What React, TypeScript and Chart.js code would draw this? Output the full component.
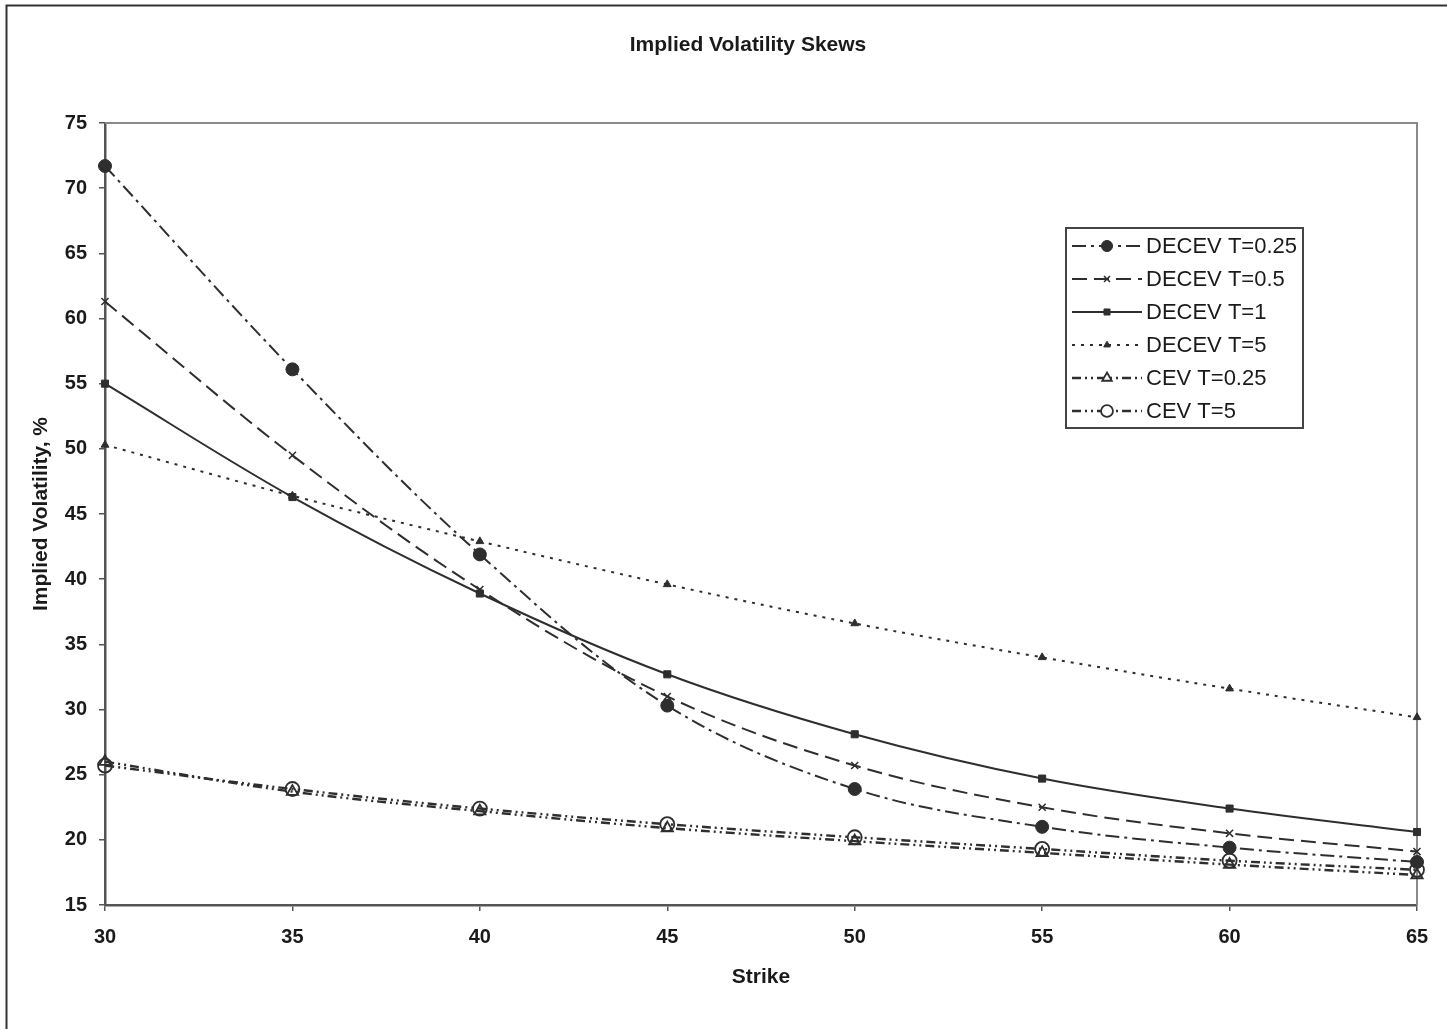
import React, { useEffect, useRef } from "react";
import { Chart, registerables } from "chart.js";
import { drawPoint } from "chart.js/helpers";

Chart.register(...registerables);

const strikes = [30, 35, 40, 45, 50, 55, 60, 65];
const decevT025 = [71.7, 56.1, 41.9, 30.3, 23.9, 21.0, 19.4, 18.3];
const decevT05 = [61.3, 49.5, 39.2, 31.0, 25.7, 22.5, 20.5, 19.1];
const decevT1 = [55.0, 46.3, 38.9, 32.7, 28.1, 24.7, 22.4, 20.6];
const decevT5 = [50.3, 46.4, 42.9, 39.6, 36.6, 34.0, 31.6, 29.4];
const cevT025 = [26.0, 23.7, 22.2, 20.9, 19.9, 19.0, 18.1, 17.3];
const cevT5 = [25.7, 23.9, 22.4, 21.2, 20.2, 19.3, 18.4, 17.7];

const chartTitle = "Implied Volatility Skews";
const seriesLabels = [
  "DECEV T=0.25",
  "DECEV T=0.5",
  "DECEV T=1",
  "DECEV T=5",
  "CEV T=0.25",
  "CEV T=5",
];
const yTicks = [15, 20, 25, 30, 35, 40, 45, 50, 55, 60, 65, 70, 75];
const xTicks = [30, 35, 40, 45, 50, 55, 60, 65];

const INK = "#2e2e2e";
const FONT = "'Liberation Sans', Arial, Helvetica, sans-serif";

const toPts = (ys: number[]) => strikes.map((x, i) => ({ x, y: ys[i] }));

export default function App() {
  const ref = useRef<HTMLCanvasElement | null>(null);

  useEffect(() => {
    if (!ref.current) return;

    const styles = [
      { dash: [14, 5, 3, 5], pointStyle: "circle", radius: 6.5, bg: INK, bw: 1, width: 2 },
      { dash: [15, 7], pointStyle: "crossRot", radius: 5, bg: INK, bw: 1.5, width: 2 },
      { dash: [], pointStyle: "rect", radius: 5, bg: INK, bw: 1, width: 2 },
      { dash: [3, 6], pointStyle: "triangle", radius: 4.5, bg: INK, bw: 1, width: 2 },
      { dash: [9, 4, 2, 4, 2, 4], pointStyle: "triangle", radius: 6.5, bg: "rgba(255,255,255,0)", bw: 1.8, width: 2.4 },
      { dash: [9, 4, 2, 4, 2, 4], pointStyle: "circle", radius: 7, bg: "rgba(255,255,255,0)", bw: 1.8, width: 2.4 },
    ];
    const values = [decevT025, decevT05, decevT1, decevT5, cevT025, cevT5];

    const frameAndBorders = {
      id: "frameAndBorders",
      beforeDatasetsDraw(chart: any) {
        const { ctx, chartArea } = chart;
        ctx.save();
        ctx.strokeStyle = "#8a8a8a";
        ctx.lineWidth = 2;
        ctx.beginPath();
        ctx.moveTo(chartArea.left, chartArea.top);
        ctx.lineTo(chartArea.right, chartArea.top);
        ctx.lineTo(chartArea.right, chartArea.bottom);
        ctx.stroke();
        ctx.restore();
      },
      afterDraw(chart: any) {
        const { ctx } = chart;
        ctx.save();
        // outer frame (top and left)
        ctx.strokeStyle = "#333";
        ctx.lineWidth = 2;
        ctx.beginPath();
        ctx.moveTo(6.5, chart.height);
        ctx.lineTo(6.5, 5.5);
        ctx.lineTo(chart.width, 5.5);
        ctx.stroke();

        // title
        ctx.fillStyle = "#1a1a1a";
        ctx.font = "bold 21px " + FONT;
        ctx.textAlign = "center";
        ctx.textBaseline = "middle";
        ctx.fillText(chartTitle, 748, 45);

        // legend
        const bx = 1066, by = 228, bw = 237, bh = 200;
        ctx.fillStyle = "#fff";
        ctx.fillRect(bx, by, bw, bh);
        ctx.strokeStyle = "#444";
        ctx.lineWidth = 2;
        ctx.strokeRect(bx, by, bw, bh);
        ctx.font = "22px " + FONT;
        ctx.textBaseline = "middle";
        ctx.textAlign = "left";
        seriesLabels.forEach((lab, i) => {
          const y = by + 18 + i * 33;
          const s = styles[i];
          ctx.strokeStyle = INK;
          ctx.lineWidth = s.width;
          ctx.setLineDash(s.dash);
          ctx.beginPath();
          ctx.moveTo(bx + 6, y);
          ctx.lineTo(bx + 76, y);
          ctx.stroke();
          ctx.setLineDash([]);
          ctx.fillStyle = s.bg === INK ? INK : "#fff";
          ctx.strokeStyle = INK;
          ctx.lineWidth = s.bw;
          drawPoint(ctx, { pointStyle: s.pointStyle, radius: s.radius * 0.85, borderWidth: s.bw, rotation: 0 } as any, bx + 41, y);
          ctx.fillStyle = "#1a1a1a";
          ctx.fillText(lab, bx + 80, y + 1);
        });
        ctx.restore();
      },
    };

    const chart = new Chart(ref.current, {
      type: "line",
      data: {
        datasets: values.map((v, i) => ({
          label: seriesLabels[i],
          data: toPts(v),
          borderColor: INK,
          borderWidth: styles[i].width,
          borderDash: styles[i].dash,
          pointStyle: styles[i].pointStyle as any,
          pointRadius: styles[i].radius,
          pointBackgroundColor: styles[i].bg,
          pointBorderColor: INK,
          pointBorderWidth: styles[i].bw,
          tension: 0.35,
          fill: false,
          clip: false as any,
        })),
      },
      options: {
        animation: false,
        responsive: true,
        maintainAspectRatio: false,
        layout: { padding: { left: 0, right: 30, top: 123, bottom: 0 } },
        plugins: {
          legend: { display: false },
          tooltip: { enabled: false },
          title: { display: false },
        },
        scales: {
          x: {
            type: "linear",
            min: 30,
            max: 65,
            afterFit: (s: any) => { s.height = 124; },
            afterBuildTicks: (s: any) => { s.ticks = xTicks.map((v) => ({ value: v })); },
            ticks: {
              color: "#1a1a1a",
              font: { family: FONT, size: 20, weight: "bold" },
              padding: 14,
              maxRotation: 0,
            },
            grid: { drawOnChartArea: false, drawTicks: true, tickLength: 6, color: "#555", lineWidth: 1.5 },
            border: { display: true, color: "#555", width: 2.5 },
            title: {
              display: true,
              text: "Strike",
              color: "#1a1a1a",
              font: { family: FONT, size: 21, weight: "bold" },
              padding: { top: 0, bottom: 39 },
            },
          },
          y: {
            type: "linear",
            min: 15,
            max: 75,
            afterFit: (s: any) => { s.width = 105; },
            afterBuildTicks: (s: any) => { s.ticks = yTicks.map((v) => ({ value: v })); },
            ticks: {
              color: "#1a1a1a",
              font: { family: FONT, size: 20, weight: "bold" },
              padding: 12,
            },
            grid: { drawOnChartArea: false, drawTicks: true, tickLength: 6, color: "#555", lineWidth: 1.5 },
            border: { display: true, color: "#555", width: 2.5 },
            title: {
              display: true,
              text: "Implied Volatility, %",
              color: "#1a1a1a",
              font: { family: FONT, size: 21, weight: "bold" },
              padding: { top: 29, bottom: 0 },
            },
          },
        },
      },
      plugins: [frameAndBorders],
    });

    return () => chart.destroy();
  }, []);

  return (
    <div style={{ position: "absolute", left: 0, top: 0, width: 1447, height: 1029, background: "#fff" }}>
      <canvas ref={ref} />
    </div>
  );
}
